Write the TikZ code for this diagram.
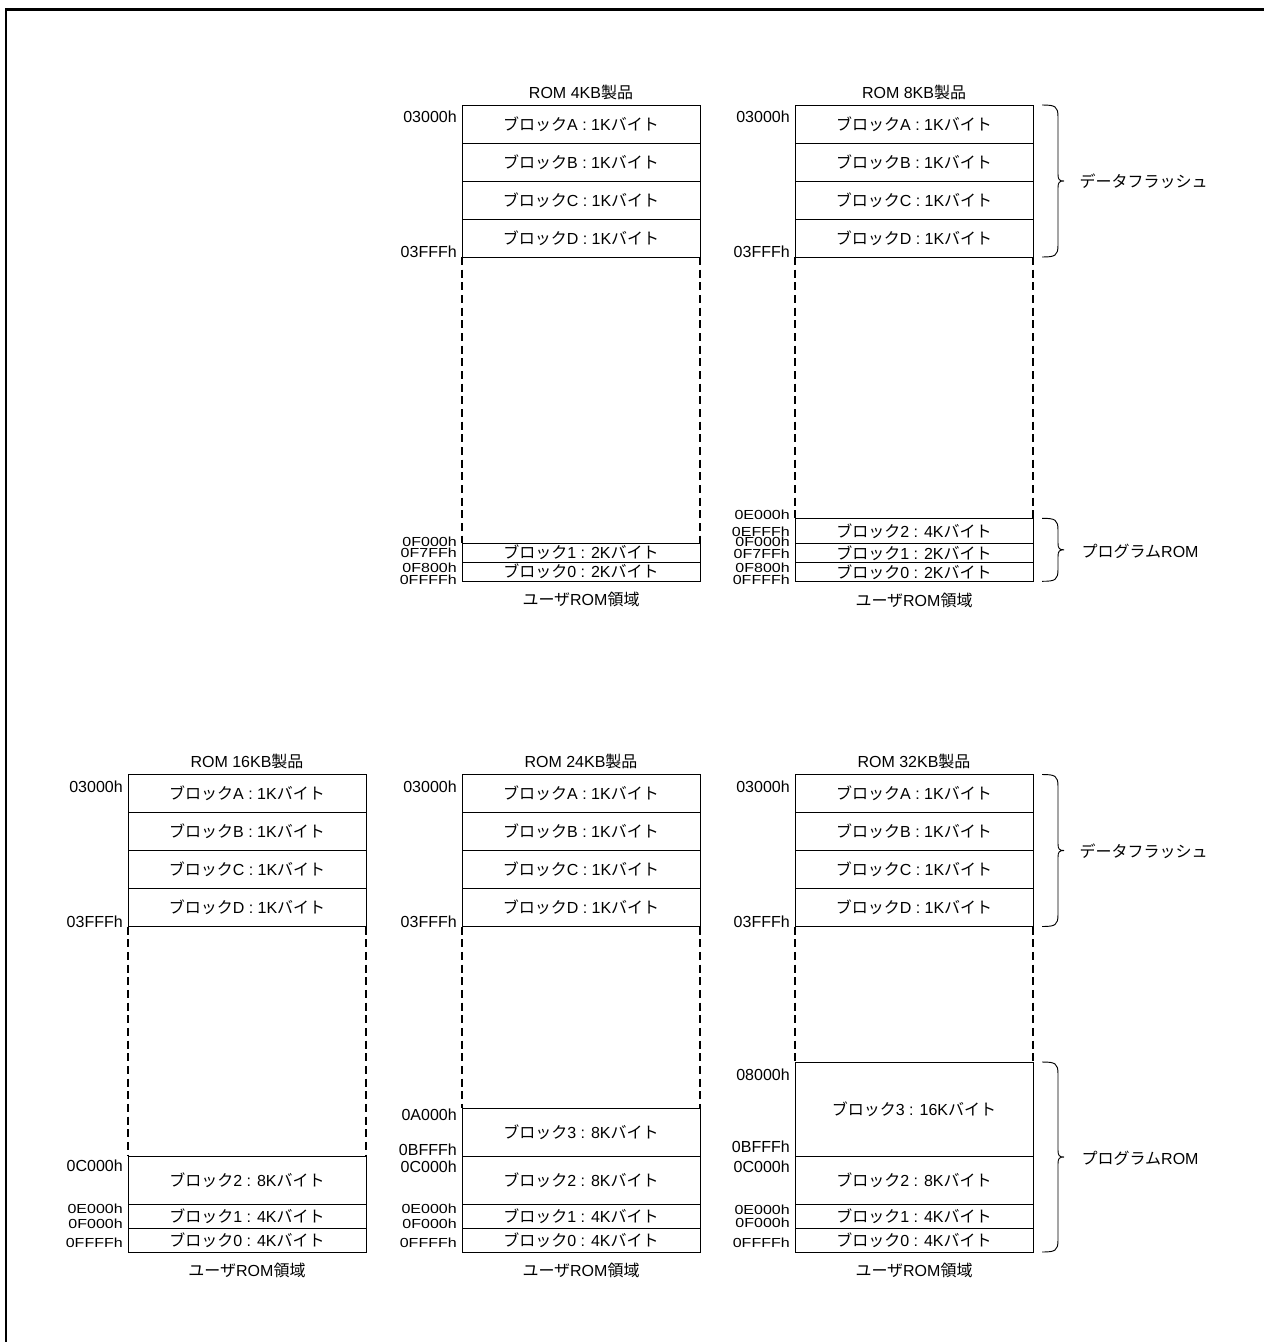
\documentclass[tikz,border=0pt]{standalone}
\usepackage{graphicx}
\usepackage{fontspec}
\setmainfont{Liberation Sans}
\newfontfamily\jp{Noto Sans CJK JP}
\newcommand\sqz[1]{\scalebox{1}[0.82]{#1}}
\usetikzlibrary{positioning,calc}

\begin{document}
\begin{tikzpicture}[x=0.75pt,y=-0.75pt,font=\fontsize{12}{14}\selectfont,
  blk/.style={draw,line width=0.7pt,minimum width=178.5pt,inner sep=0pt,outer sep=0pt},
  fl/.style={blk,minimum height=28.5pt},
  addr/.style={anchor=east,inner sep=0pt},
  gap/.style={line width=1.5pt,dash pattern=on 6pt off 3.5pt},
  brc/.style={line width=0.7pt,to path={let \p1=(\tikztostart),\p2=(\tikztotarget),
    \p3=($(\tikztostart)!.5!(\tikztotarget)$) in
    (\p1) .. controls (\x1+10pt,\y1) and (\x1+12pt,\y1-1pt) .. (\x1+12pt,\y1-9pt)
    -- (\x1+12pt,\y3+5pt) .. controls (\x1+12pt,\y3+1pt) and (\x1+13pt,\y3) .. (\x1+16.5pt,\y3)
    .. controls (\x1+13pt,\y3) and (\x1+12pt,\y3-1pt) .. (\x1+12pt,\y3-5pt)
    -- (\x1+12pt,\y2+9pt) .. controls (\x1+12pt,\y2+1pt) and (\x1+10pt,\y2) .. (\p2)}}]
\useasboundingbox (0,0) rectangle (1264,1342);
\draw[line width=2pt] (6,1342) -- (6,9.5) -- (1264,9.5);

% data flash rows of every map
\foreach \m/\cx/\ty in {4/581/105,8/914/105,16/247/774.5,24/581/774.5,32/914/774.5}{
  \node (t\m) at (\cx,\ty-13) {ROM \m KB{\jp 製品}};
  \node[fl,anchor=north] (m\m A) at (\cx,\ty) {{\jp ブロック}A : 1K{\jp バイト}};
  \node[fl,below=0pt of m\m A] (m\m B) {{\jp ブロック}B : 1K{\jp バイト}};
  \node[fl,below=0pt of m\m B] (m\m C) {{\jp ブロック}C : 1K{\jp バイト}};
  \node[fl,below=0pt of m\m C] (m\m D) {{\jp ブロック}D : 1K{\jp バイト}};
  \node[addr] (a\m-top) at (\cx-124,\ty+12) {03000h};
  \node[addr] (a\m-end) at (\cx-124,\ty+147) {03FFFh};
}

% ROM 4KB
\node[blk,minimum height=14.25pt,anchor=north] (m4b1) at (581,543) {{\jp ブロック}1 : 2K{\jp バイト}};
\node[blk,minimum height=14.25pt,below=0pt of m4b1] (m4b0) {{\jp ブロック}0 : 2K{\jp バイト}};
\draw[gap] (m4D.south west) -- (m4b1.north west);
\draw[gap] (m4D.south east) -- (m4b1.north east);
\node[below=5pt of m4b0] (u4) {{\jp ユーザ}ROM{\jp 領域}};
\foreach \t/\y [count=\i] in {0F000h/541.5,0F7FFh/553,0F800h/568,0FFFFh/580}
  \node[addr] (a4-\i) at (457,\y) {\sqz{\t}};

% ROM 8KB
\node[blk,minimum height=18.75pt,anchor=north] (m8b2) at (914,518.3) {{\jp ブロック}2 : 4K{\jp バイト}};
\node[blk,minimum height=14.25pt,below=0pt of m8b2] (m8b1) {{\jp ブロック}1 : 2K{\jp バイト}};
\node[blk,minimum height=14.25pt,below=0pt of m8b1] (m8b0) {{\jp ブロック}0 : 2K{\jp バイト}};
\draw[gap] (m8D.south west) -- (m8b2.north west);
\draw[gap] (m8D.south east) -- (m8b2.north east);
\node[below=5pt of m8b0] (u8) {{\jp ユーザ}ROM{\jp 領域}};
\foreach \t/\y [count=\i] in {0E000h/515,0EFFFh/531.5,0F000h/542,0F7FFh/554,0F800h/568,0FFFFh/580}
  \node[addr] (a8-\i) at (790,\y) {\sqz{\t}};
\draw[brc] ([xshift=6.75pt]m8A.north east) to ([xshift=6.75pt]m8D.south east);
\node[anchor=west] (df8) at (1075,181) {\jp データフラッシュ};
\draw[brc] ([xshift=6.75pt]m8b2.north east) to ([xshift=6.75pt]m8b0.south east);
\node[anchor=west] (pr8) at (1077,551) {{\jp プログラム}ROM};

% ROM 16KB
\node[blk,minimum height=36pt,anchor=north] (m16b2) at (247,1156) {{\jp ブロック}2 : 8K{\jp バイト}};
\node[blk,minimum height=18pt,below=0pt of m16b2] (m16b1) {{\jp ブロック}1 : 4K{\jp バイト}};
\node[blk,minimum height=18pt,below=0pt of m16b1] (m16b0) {{\jp ブロック}0 : 4K{\jp バイト}};
\draw[gap] (m16D.south west) -- (m16b2.north west);
\draw[gap] (m16D.south east) -- (m16b2.north east);
\node[below=5pt of m16b0] (u16) {{\jp ユーザ}ROM{\jp 領域}};
\node[addr] (a16-c) at (123,1166) {0C000h};
\foreach \t/\y [count=\i] in {0E000h/1209,0F000h/1224,0FFFFh/1243}
  \node[addr] (a16-\i) at (123,\y) {\sqz{\t}};

% ROM 24KB
\node[blk,minimum height=36pt,anchor=north] (m24b3) at (581,1108) {{\jp ブロック}3 : 8K{\jp バイト}};
\node[blk,minimum height=36pt,below=0pt of m24b3] (m24b2) {{\jp ブロック}2 : 8K{\jp バイト}};
\node[blk,minimum height=18pt,below=0pt of m24b2] (m24b1) {{\jp ブロック}1 : 4K{\jp バイト}};
\node[blk,minimum height=18pt,below=0pt of m24b1] (m24b0) {{\jp ブロック}0 : 4K{\jp バイト}};
\draw[gap] (m24D.south west) -- (m24b3.north west);
\draw[gap] (m24D.south east) -- (m24b3.north east);
\node[below=5pt of m24b0] (u24) {{\jp ユーザ}ROM{\jp 領域}};
\foreach \t/\y [count=\i] in {0A000h/1115,0BFFFh/1150,0C000h/1166.5}
  \node[addr] (a24-\i) at (457,\y) {\t};
\foreach \t/\y [count=\i] in {0E000h/1209,0F000h/1224,0FFFFh/1243}
  \node[addr] (a24-s\i) at (457,\y) {\sqz{\t}};

% ROM 32KB
\node[blk,minimum height=70.5pt,anchor=north] (m32b3) at (914,1062) {{\jp ブロック}3 : 16K{\jp バイト}};
\node[blk,minimum height=36pt,below=0pt of m32b3] (m32b2) {{\jp ブロック}2 : 8K{\jp バイト}};
\node[blk,minimum height=18pt,below=0pt of m32b2] (m32b1) {{\jp ブロック}1 : 4K{\jp バイト}};
\node[blk,minimum height=18pt,below=0pt of m32b1] (m32b0) {{\jp ブロック}0 : 4K{\jp バイト}};
\draw[gap] (m32D.south west) -- (m32b3.north west);
\draw[gap] (m32D.south east) -- (m32b3.north east);
\node[below=5pt of m32b0] (u32) {{\jp ユーザ}ROM{\jp 領域}};
\foreach \t/\y [count=\i] in {08000h/1075,0BFFFh/1147,0C000h/1166.5}
  \node[addr] (a32-\i) at (790,\y) {\t};
\foreach \t/\y [count=\i] in {0E000h/1210,0F000h/1223,0FFFFh/1243}
  \node[addr] (a32-s\i) at (790,\y) {\sqz{\t}};
\draw[brc] ([xshift=6.75pt]m32A.north east) to ([xshift=6.75pt]m32D.south east);
\node[anchor=west] (df32) at (1075,851) {\jp データフラッシュ};
\draw[brc] ([xshift=6.75pt]m32b3.north east) to ([xshift=6.75pt]m32b0.south east);
\node[anchor=west] (pr32) at (1077,1158) {{\jp プログラム}ROM};
\end{tikzpicture}
\end{document}
